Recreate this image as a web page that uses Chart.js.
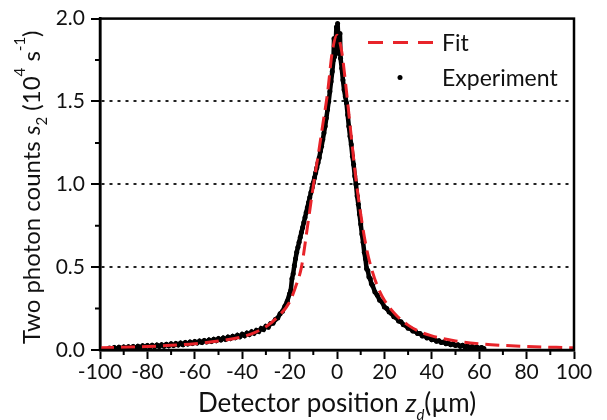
<!DOCTYPE html>
<html lang="en">
<head>
  <meta charset="UTF-8">
  <title>Two photon counts vs detector position</title>
  <style>
    html, body { margin: 0; padding: 0; background: #fff; }
    #wrap { position: relative; width: 607px; height: 420px; }
  </style>
</head>
<body>
  <div id="wrap"><canvas id="chart"></canvas></div>

  <script src="https://cdn.jsdelivr.net/npm/chart.js@4"></script>
  <script>
    // fitted curve
    const fitX = [-100, -90, -80, -70, -60, -50, -40, -35, -30, -25, -20, -17.5, -15, -12.5, -10, -8, -6, -4, -2, 0,
                  2, 4, 6, 8, 10, 12.5, 15, 17.5, 20, 25, 30, 35, 40, 50, 60, 70, 80, 90, 100];
    const fitY = [0.013, 0.017, 0.021, 0.028, 0.038, 0.054, 0.080, 0.104, 0.14, 0.20, 0.29, 0.38, 0.50, 0.74, 0.99, 1.17, 1.36, 1.55, 1.80, 1.90,
                  1.80, 1.56, 1.29, 1.03, 0.82, 0.61, 0.47, 0.37, 0.30, 0.21, 0.15, 0.11, 0.085, 0.055, 0.038, 0.028, 0.021, 0.017, 0.013];

    // measured points
    const expX = [
      -96, -95, -94, -93, -92, -91, -90, -89, -88, -87, -86, -85, -84, -83, -82, -81, -80, -79, -78, -77,
      -76, -75, -74, -73, -72, -71, -70, -69, -68, -67, -66, -65, -64, -63, -62, -61, -60, -59, -58, -57,
      -56, -55, -54, -53, -52, -51, -50, -49, -48, -47, -46, -45, -44, -43, -42, -41, -40, -39, -38, -37,
      -36, -35, -34, -33, -32, -31, -30, -29, -28, -27, -26, -25, -24, -23, -22, -21,
      -20, -19.5, -19, -18.5, -18, -17.5, -17, -16.5, -16, -15.5, -15, -14.5, -14, -13.5, -13, -12.5, -12, -11.5,
      -11, -10.5, -10, -9.5, -9, -8.5, -8, -7.5, -7, -6.5, -6, -5.5, -5, -4.5, -4, -3.5, -3, -2.5, -2, -1.5,
      -1.25, -1, -0.75, -0.5, -0.25, 0, 0.25, 0.5, 0.75, 1, 1.25, 1.5, 2, 2.5, 3, 3.5, 4, 4.5, 5, 5.5, 6, 6.5,
      7, 7.5, 8, 8.5, 9, 9.5, 10, 10.5, 11, 11.5, 12, 12.5, 13, 13.5, 14, 14.5, 15,
      16, 17, 18, 19, 20, 21, 22, 23, 24, 25, 26, 27, 28, 29, 30, 31, 32, 33, 34, 35, 36, 37, 38, 39,
      40, 41, 42, 43, 44, 45, 46, 47, 48, 49, 50, 51, 52, 53, 54, 55, 56, 57, 58, 59, 60, 61, 62
    ];
    const expY = [
      0.012, 0.004, 0.015, 0.006, 0.017, 0.007, 0.018, 0.009, 0.020, 0.010, 0.021, 0.012, 0.023, 0.014, 0.025, 0.016, 0.027, 0.017, 0.028, 0.019,
      0.030, 0.021, 0.032, 0.023, 0.034, 0.025, 0.037, 0.027, 0.039, 0.030, 0.042, 0.032, 0.045, 0.036, 0.048, 0.039, 0.051, 0.042, 0.054, 0.045,
      0.057, 0.049, 0.061, 0.052, 0.065, 0.056, 0.069, 0.060, 0.073, 0.064, 0.078, 0.069, 0.083, 0.074, 0.089, 0.080, 0.095, 0.086, 0.102, 0.093,
      0.110, 0.101, 0.119, 0.111, 0.130, 0.123, 0.143, 0.138, 0.160, 0.162, 0.184, 0.193, 0.219, 0.234, 0.264, 0.294,
      0.34, 0.36, 0.43, 0.46, 0.51, 0.55, 0.59, 0.62, 0.65, 0.68, 0.71, 0.74, 0.77, 0.80, 0.83, 0.86, 0.89, 0.92,
      0.95, 0.98, 1.01, 1.04, 1.07, 1.10, 1.13, 1.16, 1.20, 1.23, 1.27, 1.31, 1.35, 1.40, 1.45, 1.50, 1.56, 1.62, 1.68, 1.75,
      1.88, 1.77, 1.80, 1.87, 1.95, 1.83, 1.97, 1.90, 1.84, 1.79, 1.91, 1.76, 1.70, 1.63, 1.57, 1.53, 1.49, 1.42, 1.35, 1.29, 1.24, 1.17,
      1.12, 1.05, 1.00, 0.93, 0.88, 0.82, 0.76, 0.70, 0.65, 0.59, 0.55, 0.49, 0.48, 0.44, 0.43, 0.40, 0.39,
      0.35, 0.33, 0.30, 0.29, 0.26, 0.25, 0.23, 0.22, 0.20, 0.195, 0.175, 0.17, 0.153, 0.148, 0.132, 0.129, 0.114, 0.113, 0.099, 0.099, 0.085, 0.086, 0.073, 0.075,
      0.062, 0.065, 0.053, 0.056, 0.045, 0.049, 0.038, 0.042, 0.032, 0.037, 0.027, 0.032, 0.022, 0.028, 0.018, 0.024, 0.015, 0.021, 0.012, 0.018, 0.010, 0.015, 0.009
    ];

    const xMinor = [-90, -70, -50, -30, -10, 10, 30, 50, 70, 90];
    const yMinor = [0.25, 0.75, 1.25, 1.75];

    const RED = '#e8242a';
    const INK = '#111';
    const FONT = 'Lato';

    Chart.defaults.font.family = FONT;
    Chart.defaults.color = INK;

    function drawRuns(ctx, runs, x, y) {
      let total = 0;
      runs.forEach(r => { ctx.font = r.font; r.w = ctx.measureText(r.t).width; total += r.w; });
      let cx = x - total / 2;
      runs.forEach(r => { ctx.font = r.font; ctx.fillText(r.t, cx, y + (r.dy || 0)); cx += r.w; });
    }

    const decor = {
      id: 'decor',
      afterDraw(chart) {
        const { ctx, chartArea: a, scales: { x, y } } = chart;
        ctx.save();

        // box round the plot
        ctx.strokeStyle = '#000';
        ctx.lineWidth = 2.5;
        ctx.strokeRect(a.left, a.top, a.right - a.left, a.bottom - a.top);

        // minor ticks
        ctx.lineWidth = 2;
        ctx.beginPath();
        xMinor.forEach(v => {
          const px = x.getPixelForValue(v);
          ctx.moveTo(px, a.bottom); ctx.lineTo(px, a.bottom + 5);
        });
        yMinor.forEach(v => {
          const py = y.getPixelForValue(v);
          ctx.moveTo(a.left, py); ctx.lineTo(a.left - 5, py);
        });
        ctx.stroke();

        // axis titles
        ctx.fillStyle = INK;
        ctx.textBaseline = 'alphabetic';
        drawRuns(ctx, [
          { t: 'Detector position ', font: '26px ' + FONT },
          { t: 'z', font: 'italic 26px ' + FONT },
          { t: 'd', font: 'italic 15px ' + FONT, dy: 8 },
          { t: '(µm)', font: '26px ' + FONT }
        ], (a.left + a.right) / 2, 412);

        ctx.save();
        ctx.translate(40, (a.top + a.bottom) / 2 + 3);
        ctx.rotate(-Math.PI / 2);
        drawRuns(ctx, [
          { t: 'Two photon counts ', font: '24px ' + FONT },
          { t: 's', font: 'italic 24px ' + FONT },
          { t: '2', font: '15px ' + FONT, dy: 7 },
          { t: ' (10', font: '24px ' + FONT },
          { t: '4', font: '15px ' + FONT, dy: -15 },
          { t: ' s', font: '24px ' + FONT },
          { t: '-1', font: '15px ' + FONT, dy: -15 },
          { t: ')', font: '24px ' + FONT }
        ], 0, 0);
        ctx.restore();

        // legend
        const ds = chart.data.datasets;
        ctx.font = '23px ' + FONT;
        ctx.textBaseline = 'middle';
        ctx.strokeStyle = RED;
        ctx.lineWidth = 3;
        ctx.setLineDash([15, 10]);
        ctx.beginPath();
        ctx.moveTo(a.right - 206, a.top + 24);
        ctx.lineTo(a.right - 141, a.top + 24);
        ctx.stroke();
        ctx.setLineDash([]);
        ctx.fillText(ds[0].label, a.right - 132, a.top + 25);

        ctx.fillStyle = '#000';
        ctx.beginPath();
        ctx.arc(a.right - 174, a.top + 59, 2.5, 0, Math.PI * 2);
        ctx.fill();
        ctx.fillStyle = INK;
        ctx.fillText(ds[1].label, a.right - 132, a.top + 60);

        ctx.restore();
      }
    };

    new Chart(document.getElementById('chart'), {
      type: 'scatter',
      data: {
        datasets: [
          {
            label: 'Fit',
            data: fitX.map((v, i) => ({ x: v, y: fitY[i] })),
            showLine: true,
            borderColor: RED,
            borderWidth: 3,
            borderDash: [14, 7],
            cubicInterpolationMode: 'monotone',
            pointRadius: 0
          },
          {
            label: 'Experiment',
            data: expX.map((v, i) => ({ x: v, y: expY[i] })),
            showLine: true,
            borderColor: '#000',
            borderWidth: 4.5,
            backgroundColor: '#000',
            pointRadius: 2.5,
            pointBorderWidth: 0
          }
        ]
      },
      options: {
        responsive: true,
        maintainAspectRatio: false,
        animation: false,
        layout: { padding: { left: 0, top: 18, right: 33, bottom: 0 } },
        plugins: {
          legend: { display: false },
          tooltip: { enabled: false }
        },
        scales: {
          x: {
            type: 'linear',
            min: -100,
            max: 100,
            afterFit: s => { s.height = 70; },
            border: { display: true, color: '#000', width: 2.5 },
            grid: { drawOnChartArea: false, tickLength: 9, tickWidth: 2, tickColor: '#000' },
            ticks: { stepSize: 20, padding: 1, maxRotation: 0, font: { size: 21 }, color: INK }
          },
          y: {
            min: 0,
            max: 2,
            afterFit: s => { s.width = 100; },
            border: { display: true, color: '#000', width: 2.5, dash: [3, 5] },
            grid: {
              color: c => (c.tick && (c.tick.value === 0 || c.tick.value === 2)) ? 'rgba(0,0,0,0)' : '#222',
              lineWidth: 2,
              tickLength: 9,
              tickWidth: 2,
              tickColor: '#000'
            },
            ticks: {
              stepSize: 0.5,
              padding: 6,
              font: { size: 21 },
              color: INK,
              callback: v => v.toFixed(1)
            }
          }
        }
      },
      plugins: [decor]
    });
  </script>
</body>
</html>
